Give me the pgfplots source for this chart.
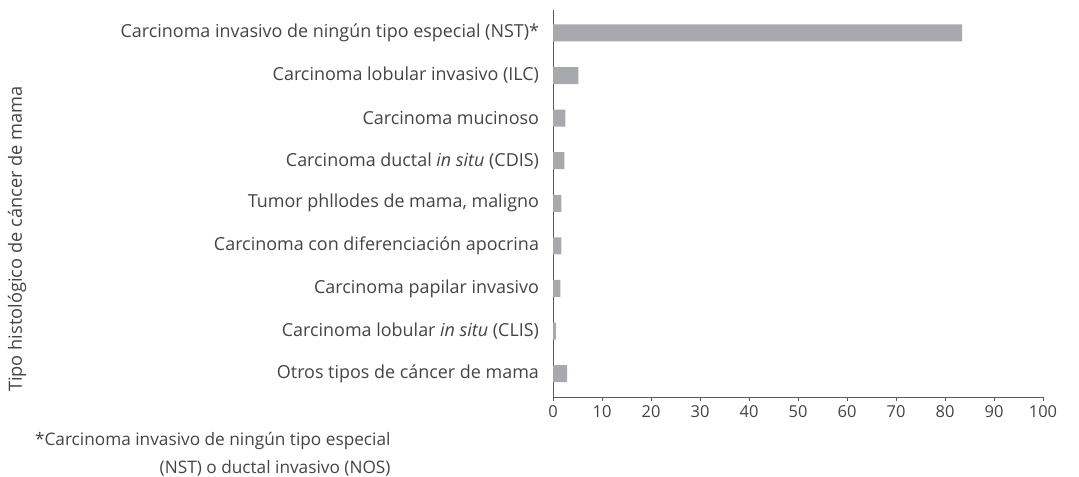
\documentclass[border=0pt]{standalone}
\usepackage{fontspec}
\setmainfont{Open Sans}
\usepackage{pgfplots}
\pgfplotsset{compat=1.18}
\definecolor{bargray}{HTML}{A7A9AC}
\definecolor{axgray}{HTML}{58595B}
\definecolor{txtgray}{HTML}{444444}

\begin{document}
\begin{tikzpicture}[x=1bp,y=1bp]
\useasboundingbox (0,0) rectangle (1079,477);
\begin{axis}[
    at={(553bp,80bp)}, anchor=south west,
    scale only axis,
    width=490bp, height=387bp,
    xbar, bar width=17bp, bar shift=0pt,
    xmin=0, xmax=100,
    ymin=0.46, ymax=9.55,
    y dir=reverse,
    xtick={0,10,...,100},
    ytick={1,...,9},
    yticklabels={
        Carcinoma invasivo de ningún tipo especial (NST)*,
        Carcinoma lobular invasivo (ILC),
        Carcinoma mucinoso,
        {Carcinoma ductal \textit{in situ} (CDIS)},
        {Tumor phllodes de mama, maligno},
        Carcinoma con diferenciación apocrina,
        Carcinoma papilar invasivo,
        {Carcinoma lobular \textit{in situ} (CLIS)},
        Otros tipos de cáncer de mama},
    axis x line*=bottom, axis y line*=left,
    axis line style={axgray, line width=1pt},
    x axis line style={-}, y axis line style={-},
    ytick style={draw=none},
    xtick style={axgray, line width=0.8pt},
    tick align=outside, major tick length=4bp,
    yticklabel style={font=\fontsize{18}{21}\selectfont, text=txtgray, xshift=-6.5bp},
    xticklabel style={font=\fontsize{16.5}{19}\selectfont, text=txtgray, yshift=-1bp},
    /pgf/number format/assume math mode=true,
]
\addplot[fill=bargray, draw=none] coordinates {
    (83.5,1) (5.2,2) (2.5,3) (2.3,4) (1.7,5) (1.7,6) (1.5,7) (0.6,8) (2.9,9)};
\end{axis}
\node[rotate=90, text=txtgray, font=\fontsize{18.3}{21}\selectfont] at (17,238) {Tipo histológico de cáncer de mama};
\node[anchor=east, text=txtgray, font=\fontsize{17.3}{20}\selectfont] at (394,36) {*Carcinoma invasivo de ningún tipo especial};
\node[anchor=east, text=txtgray, font=\fontsize{17.3}{20}\selectfont] at (394,9) {(NST) o ductal invasivo (NOS)};
\end{tikzpicture}
\end{document}
